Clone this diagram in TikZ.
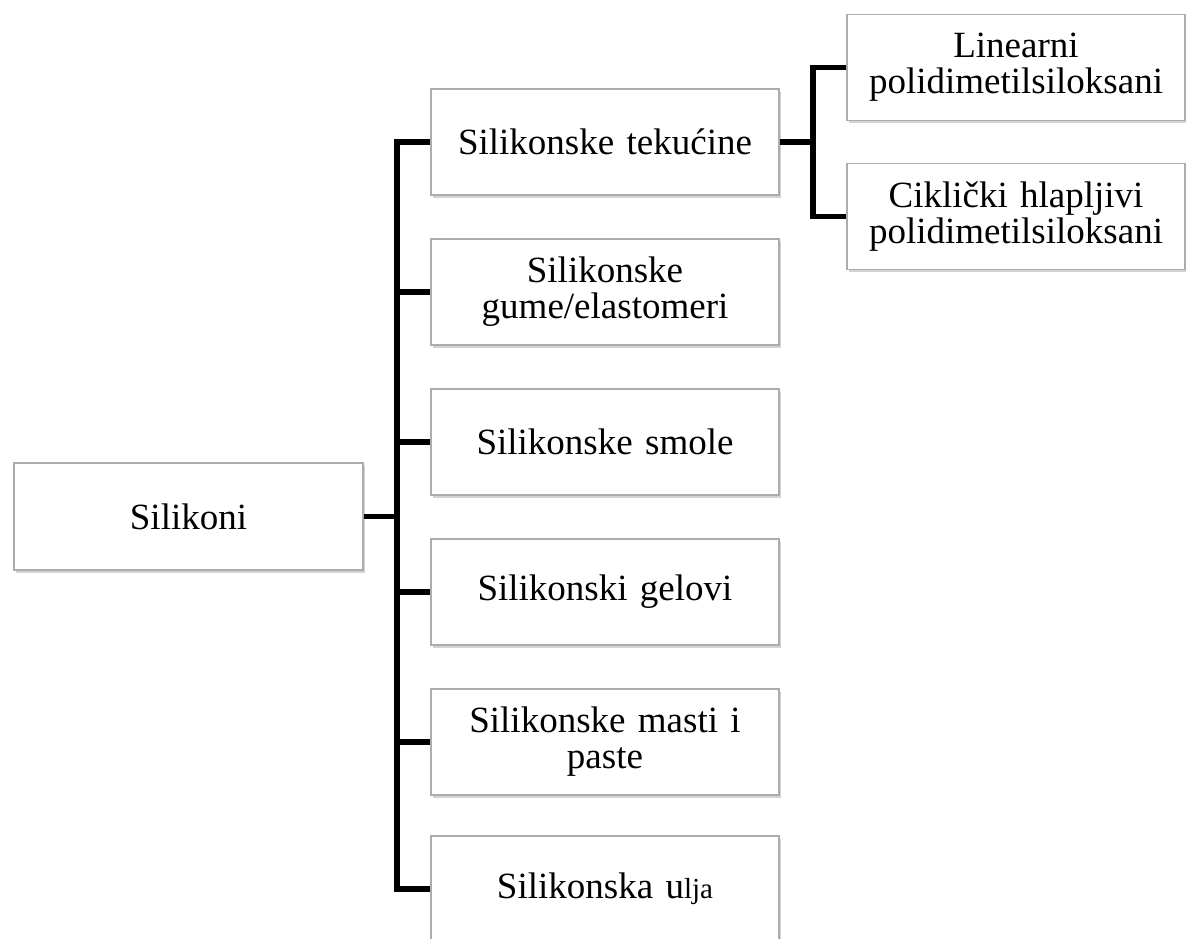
\documentclass[tikz,border=0pt]{standalone}
\usepackage{fontspec}
\setmainfont{Liberation Serif}
\usetikzlibrary{shadows}
\begin{document}
\begin{tikzpicture}[x=0.5pt,y=-0.5pt,
  box/.style={draw=gray!65, line width=0.8pt, fill=white, align=center,
    inner sep=2pt, font=\fontsize{18.5}{18}\selectfont,
    drop shadow={shadow xshift=1.2pt, shadow yshift=-1.4pt, opacity=0.35, fill=gray}},
  midbox/.style={box, minimum width=174pt, minimum height=53pt, text width=165pt},
  rbox/.style={box, minimum width=168pt, minimum height=53pt, text width=165pt},
  conn/.style={line width=2.6pt, black, line join=miter}]
\useasboundingbox (0,0) rectangle (1186,938);
\node[box, minimum width=174.5pt, minimum height=53.5pt] (root) at (188.5,516.5) {Silikoni};
\node[midbox] (b1) at (605,142) {Silikonske tekućine};
\node[midbox] (b2) at (605,292) {Silikonske\\gume/elastomeri};
\node[midbox] (b3) at (605,442) {Silikonske smole};
\node[midbox] (b4) at (605,592) {Silikonski gelovi};
\node[midbox] (b5) at (605,742) {Silikonske masti i\\paste};
\node[midbox] (b6) at (605,889) {Silikonska u{\fontsize{14.5}{14}\selectfont lja}};
\node[rbox] (c1) at (1016,67.5) {Linearni\\polidimetilsiloksani};
\node[rbox] (c2) at (1016,216.5) {Ciklički hlapljivi\\polidimetilsiloksani};
\coordinate (t1) at (397,0);
\coordinate (t2) at (813,0);
\draw[conn] (b1.west) -- (b1.west -| t1) -- (b6.west -| t1) -- (b6.west);
\draw[conn] (b2.west -| t1) -- (b2.west);
\draw[conn] (b3.west -| t1) -- (b3.west);
\draw[conn] (b4.west -| t1) -- (b4.west);
\draw[conn] (b5.west -| t1) -- (b5.west);
\draw[conn] (root.east) -- (root.east -| t1);
\draw[conn] (c1.west) -- (c1.west -| t2) -- (c2.west -| t2) -- (c2.west);
\draw[conn] (b1.east) -- (b1.east -| t2);
\end{tikzpicture}
\end{document}
